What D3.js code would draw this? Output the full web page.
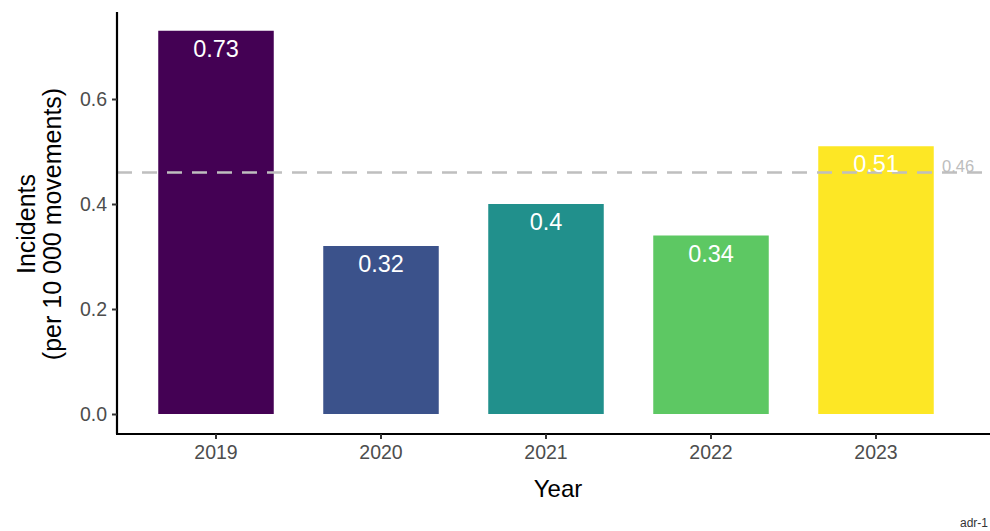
<!DOCTYPE html>
<html><head><meta charset="utf-8">
<script src="https://cdn.jsdelivr.net/npm/d3@7"></script>
<style>body{margin:0;background:#fff}svg{display:block;font-family:"Liberation Sans",Arial,sans-serif}</style>
</head><body>
<svg id="c" width="990" height="531"></svg>
<script>
const years = ["2019","2020","2021","2022","2023"];
const values = [0.73, 0.32, 0.4, 0.34, 0.51];
const colors = ["#440154","#3B528B","#21908C","#5DC863","#FDE725"];
const yTicks = [0.0, 0.2, 0.4, 0.6];
const meanValue = 0.46;

const svg = d3.select("#c");
const x = d3.scaleBand().domain(years).range([117, 975]).paddingInner(0.3).paddingOuter(0.25);
const y = d3.scaleLinear().domain([0, 0.2]).range([414, 309]);

// bars
svg.selectAll("rect.bar").data(years).enter().append("rect")
  .attr("x", d => x(d)).attr("width", x.bandwidth())
  .attr("y", (d,i) => y(values[i])).attr("height", (d,i) => y(0) - y(values[i]))
  .attr("fill", (d,i) => colors[i]);

// mean line
svg.append("line").attr("x1", 117).attr("x2", 990)
  .attr("y1", y(meanValue)).attr("y2", y(meanValue))
  .attr("stroke", "#bfbfbf").attr("stroke-width", 2.4).attr("stroke-dasharray", "15,10");
svg.append("text").attr("x", 942).attr("y", y(meanValue) - 1)
  .attr("fill", "#bdbdbd").attr("font-size", 16.5).text(meanValue.toFixed(2));

// value labels
svg.selectAll("text.val").data(years).enter().append("text")
  .attr("x", d => x(d) + x.bandwidth()/2).attr("y", (d,i) => y(values[i]) + 26)
  .attr("text-anchor", "middle").attr("fill", "#fff").attr("font-size", 23.5)
  .text((d,i) => String(values[i]));

// y axis
const ya = svg.append("g").attr("transform", "translate(117,0)")
  .call(d3.axisLeft(y).tickValues(yTicks).tickFormat(d3.format(".1f")).tickSize(5).tickPadding(5));
ya.select(".domain").attr("d", "M0,12V434").attr("stroke", "#000").attr("stroke-width", 2.2);
ya.selectAll(".tick line").attr("stroke", "#333").attr("stroke-width", 2);
ya.selectAll(".tick text").attr("fill", "#4d4d4d").attr("font-size", 19.5).attr("font-family", "Liberation Sans, Arial, sans-serif");

// x axis
const xa = svg.append("g").attr("transform", "translate(0,434)")
  .call(d3.axisBottom(x).tickSize(5).tickPadding(6));
xa.select(".domain").attr("d", "M116,0H990").attr("stroke", "#000").attr("stroke-width", 2.2);
xa.selectAll(".tick line").attr("stroke", "#333").attr("stroke-width", 2);
xa.selectAll(".tick text").attr("fill", "#4d4d4d").attr("font-size", 19.5).attr("font-family", "Liberation Sans, Arial, sans-serif");

// titles
svg.append("text").attr("x", 558).attr("y", 497).attr("text-anchor", "middle")
  .attr("font-size", 24).attr("fill", "#000").text("Year");
const yt = svg.append("text").attr("transform", "translate(0,224) rotate(-90)")
  .attr("text-anchor", "middle").attr("font-size", 25).attr("fill", "#000");
yt.append("tspan").attr("x", 0).attr("y", 35).text("Incidents");
yt.append("tspan").attr("x", 0).attr("y", 61).text("(per 10 000 movements)");

svg.append("text").attr("x", 988).attr("y", 527).attr("text-anchor", "end")
  .attr("font-size", 12).attr("fill", "#333").text("adr-1");
</script>
</body></html>
